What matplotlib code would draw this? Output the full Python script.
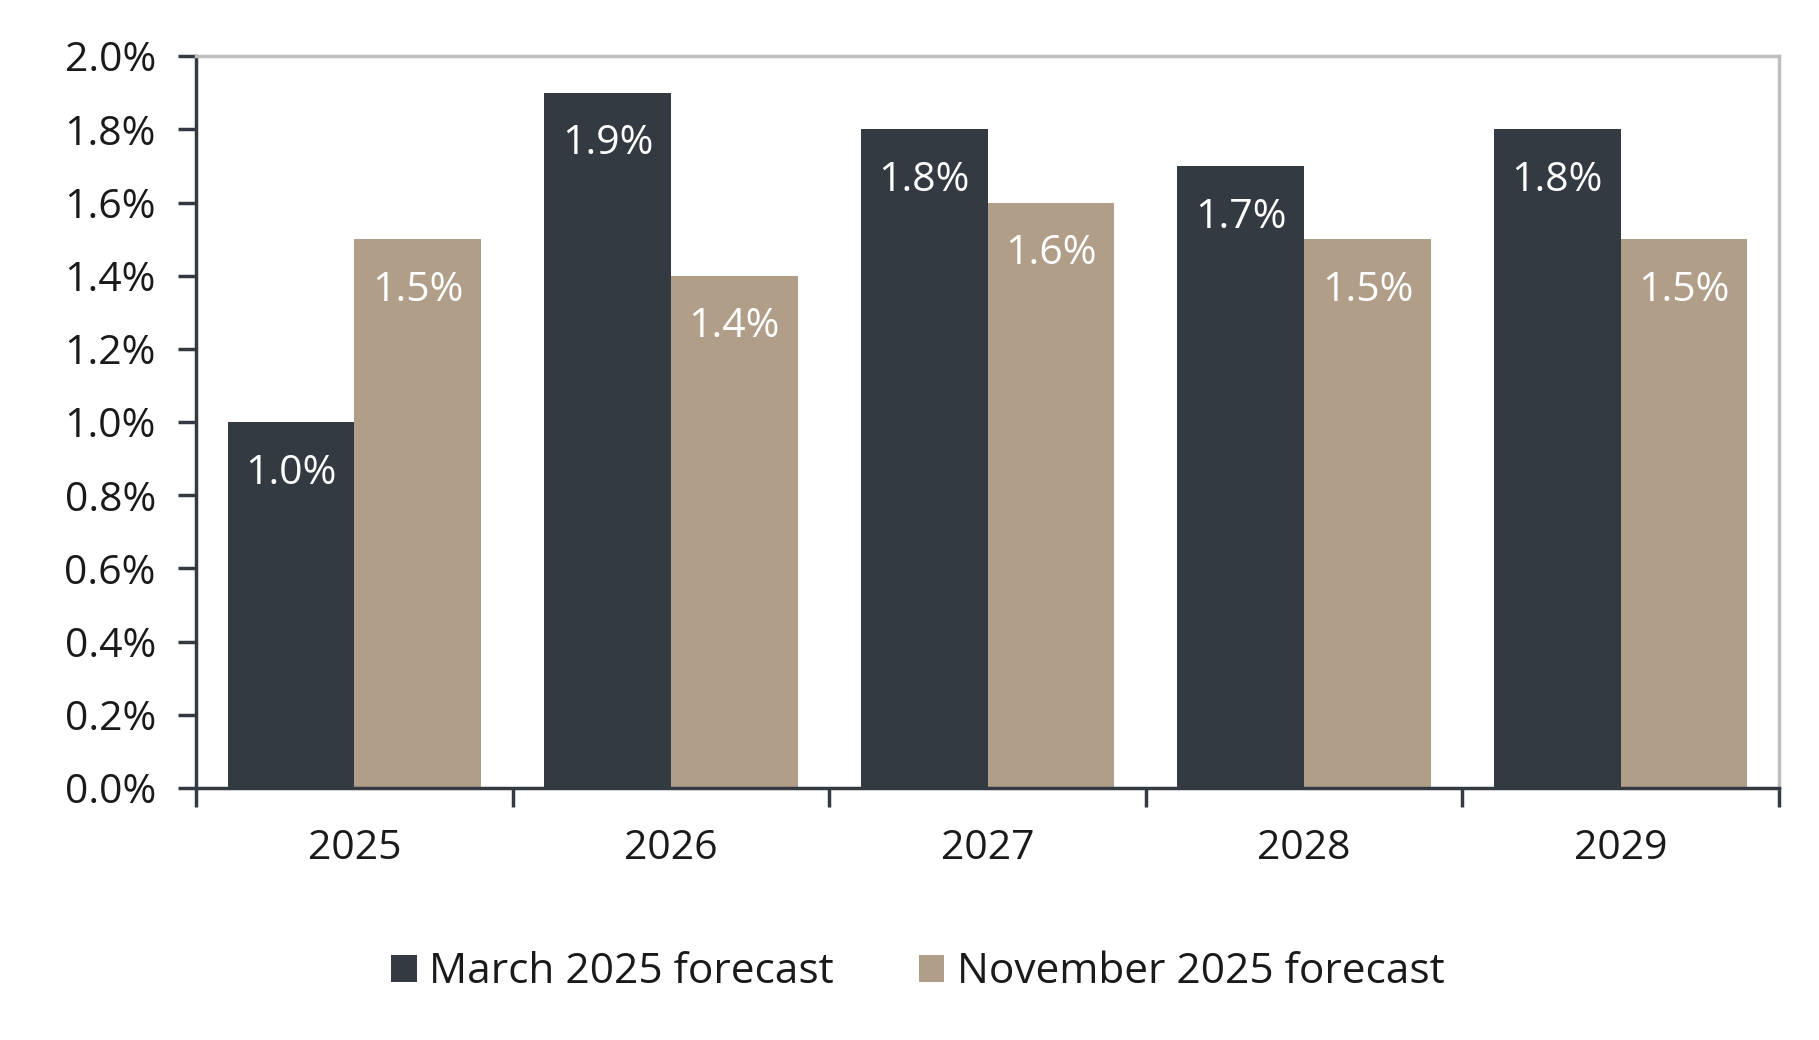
import numpy as np
import matplotlib.pyplot as plt
from matplotlib.ticker import FuncFormatter

plt.rcParams["font.family"] = ["Open Sans", "DejaVu Sans"]
plt.rcParams["font.size"] = 29.5
plt.rcParams["text.color"] = "#1a1a1a"
plt.rcParams["xtick.color"] = "#1a1a1a"
plt.rcParams["ytick.color"] = "#1a1a1a"

years = ["2025", "2026", "2027", "2028", "2029"]
march_2025 = [1.0, 1.9, 1.8, 1.7, 1.8]
november_2025 = [1.5, 1.4, 1.6, 1.5, 1.5]
series_names = ["March 2025 forecast", "November 2025 forecast"]

dark = "#343a41"
tan = "#b09e88"

fig = plt.figure(figsize=(18.19, 10.40), dpi=100)
ax = fig.add_axes([0.1078, 0.2423, 0.8702, 0.7037])

x = np.arange(len(years))
w = 0.4
b1 = ax.bar(x - w / 2, march_2025, w, color=dark, label=series_names[0])
b2 = ax.bar(x + w / 2, november_2025, w, color=tan, label=series_names[1])

for bars in (b1, b2):
    for bar in bars:
        val = bar.get_height()
        ax.annotate(f"{val:.1f}%", (bar.get_x() + bar.get_width() / 2, val),
                    xytext=(0, -37), textcoords="offset points",
                    ha="center", va="center", color="white", fontsize=29.5)

ax.set_xlim(-0.5, len(years) - 0.5)
ax.set_ylim(0, 2.0)
ax.set_yticks(np.arange(0, 2.01, 0.2))
ax.yaxis.set_major_formatter(FuncFormatter(lambda v, p: f"{v:.1f}%"))

# tick marks between groups, labels at centres
ax.set_xticks(np.arange(-0.5, len(years), 1.0))
ax.set_xticklabels([])
ax.set_xticks(x, minor=True)
ax.set_xticklabels(years, minor=True)
ax.tick_params(axis="x", which="minor", length=0, pad=29)
ax.tick_params(axis="x", which="major", length=14, width=2.5, color=dark, direction="out")
ax.tick_params(axis="y", length=13, width=2.5, color=dark, pad=16)

for side in ("left", "bottom"):
    ax.spines[side].set_color(dark)
    ax.spines[side].set_linewidth(2.5)
for side in ("top", "right"):
    ax.spines[side].set_color("#bfbfbf")
    ax.spines[side].set_linewidth(2.5)

ax.legend(loc="center", bbox_to_anchor=(0.456, -0.252), ncol=2, frameon=False,
          fontsize=30.5, handlelength=0.6, handleheight=0.6, handletextpad=0.3,
          columnspacing=2.0)

fig.savefig("out.png", dpi=100)
